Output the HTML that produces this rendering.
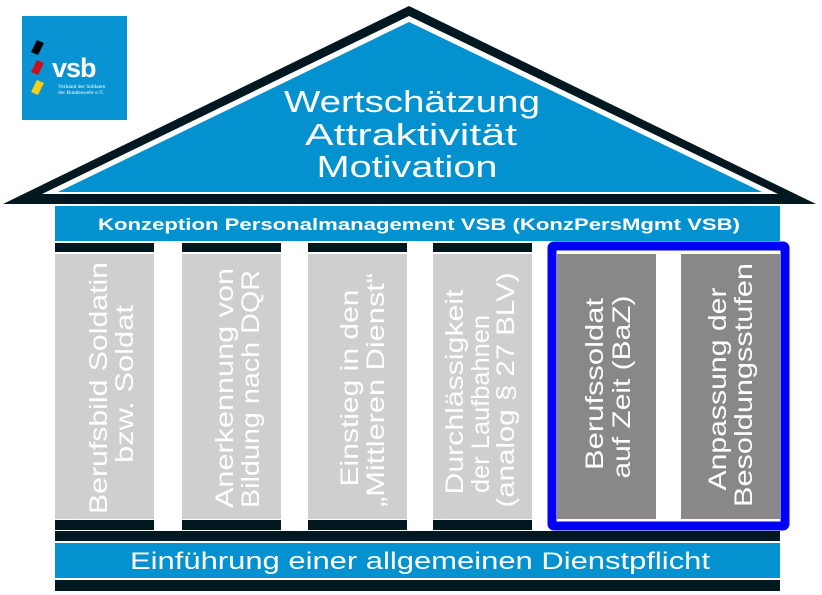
<!DOCTYPE html>
<html><head><meta charset="utf-8"><style>
html,body{margin:0;padding:0;background:#fff;}
svg{display:block;font-family:"Liberation Sans",sans-serif;}
</style></head><body>
<svg width="822" height="595" viewBox="0 0 822 595" xmlns="http://www.w3.org/2000/svg">
<rect width="822" height="595" fill="#fff"/>
<!-- logo -->
<rect x="22" y="16" width="105" height="104" fill="#0a93d3"/>
<polygon points="31,52 37,40 44,43 38,55" fill="#000"/>
<polygon points="31,72 37,60 44,63 38,75" fill="#c8101e"/>
<polygon points="31,92 37,80 44,83 38,95" fill="#f5cf14"/>
<text x="52" y="77" font-size="27" font-weight="bold" fill="#fff" letter-spacing="-1">vsb</text>
<text x="58" y="88" font-size="5.5" fill="#fff" font-family="Liberation Serif,serif">Verband der Soldaten</text>
<text x="58" y="94" font-size="5.5" fill="#fff" font-family="Liberation Serif,serif">der Bundeswehr e.V.</text>
<!-- roof -->
<polygon points="3,204 409,6 816,204" fill="#021820"/>
<polygon points="42,194 409,16 778,194" fill="#fff"/>
<polygon points="58,192 409,22 762,192" fill="#0391cf"/>
<g fill="#fff" text-anchor="middle" font-size="31">
<text x="412" y="112" textLength="256" lengthAdjust="spacingAndGlyphs">Wertschätzung</text>
<text x="411" y="145" textLength="212" lengthAdjust="spacingAndGlyphs">Attraktivität</text>
<text x="407" y="177" textLength="181" lengthAdjust="spacingAndGlyphs">Motivation</text>
</g>
<!-- top banner -->
<rect x="55" y="206" width="725" height="35" fill="#0391cf"/>
<text x="419" y="230" fill="#fff" font-size="17" font-weight="bold" text-anchor="middle" textLength="642" lengthAdjust="spacingAndGlyphs">Konzeption Personalmanagement VSB (KonzPersMgmt VSB)</text>
<!-- columns -->
<g fill="#021820">
<rect x="55" y="243" width="99" height="9"/><rect x="182" y="243" width="99" height="9"/>
<rect x="308" y="243" width="99" height="9"/><rect x="433" y="243" width="99" height="9"/>
<rect x="55" y="520" width="99" height="10"/><rect x="182" y="520" width="99" height="10"/>
<rect x="308" y="520" width="99" height="10"/><rect x="433" y="520" width="99" height="10"/>
<rect x="55" y="531" width="725" height="10"/>
<rect x="55" y="580" width="725" height="11"/>
</g>
<g fill="#d0cfd0">
<rect x="55" y="254" width="99" height="265"/><rect x="182" y="254" width="99" height="265"/>
<rect x="308" y="254" width="99" height="265"/><rect x="433" y="254" width="99" height="265"/>
</g>
<rect x="552" y="246" width="233" height="280" fill="#fff" stroke="#0000f5" stroke-width="9" rx="2"/>
<g fill="#8a8788">
<rect x="557" y="254" width="99" height="265"/><rect x="681" y="254" width="99" height="265"/>
</g>
<g fill="#fff" font-size="25" text-anchor="middle" lengthAdjust="spacingAndGlyphs">
<text transform="translate(107,388) rotate(-90)" textLength="252" lengthAdjust="spacingAndGlyphs">Berufsbild Soldatin</text>
<text transform="translate(133,384) rotate(-90)" textLength="158" lengthAdjust="spacingAndGlyphs">bzw. Soldat</text>
<text transform="translate(233,388) rotate(-90)" textLength="240" lengthAdjust="spacingAndGlyphs">Anerkennung von</text>
<text transform="translate(259,389) rotate(-90)" textLength="238" lengthAdjust="spacingAndGlyphs">Bildung nach DQR</text>
<text transform="translate(358,388) rotate(-90)" textLength="197" lengthAdjust="spacingAndGlyphs">Einstieg in den</text>
<text transform="translate(384,390) rotate(-90)" textLength="234" lengthAdjust="spacingAndGlyphs">„Mittleren Dienst“</text>
<text transform="translate(463,392) rotate(-90)" textLength="205" lengthAdjust="spacingAndGlyphs">Durchlässigkeit</text>
<text transform="translate(489,404) rotate(-90)" textLength="178" lengthAdjust="spacingAndGlyphs">der Laufbahnen</text>
<text transform="translate(514,390) rotate(-90)" textLength="235" lengthAdjust="spacingAndGlyphs">(analog § 27 BLV)</text>
<text transform="translate(603,384) rotate(-90)" textLength="172" lengthAdjust="spacingAndGlyphs">Berufssoldat</text>
<text transform="translate(630,387) rotate(-90)" textLength="183" lengthAdjust="spacingAndGlyphs">auf Zeit (BaZ)</text>
<text transform="translate(726,389) rotate(-90)" textLength="203" lengthAdjust="spacingAndGlyphs">Anpassung der</text>
<text transform="translate(752,385) rotate(-90)" textLength="244" lengthAdjust="spacingAndGlyphs">Besoldungsstufen</text>
</g>
<!-- bottom banner -->
<rect x="55" y="543" width="725" height="35" fill="#0391cf"/>
<text x="420" y="569" fill="#fff" font-size="24" text-anchor="middle" textLength="580" lengthAdjust="spacingAndGlyphs">Einführung einer allgemeinen Dienstpflicht</text>
</svg>
</body></html>
